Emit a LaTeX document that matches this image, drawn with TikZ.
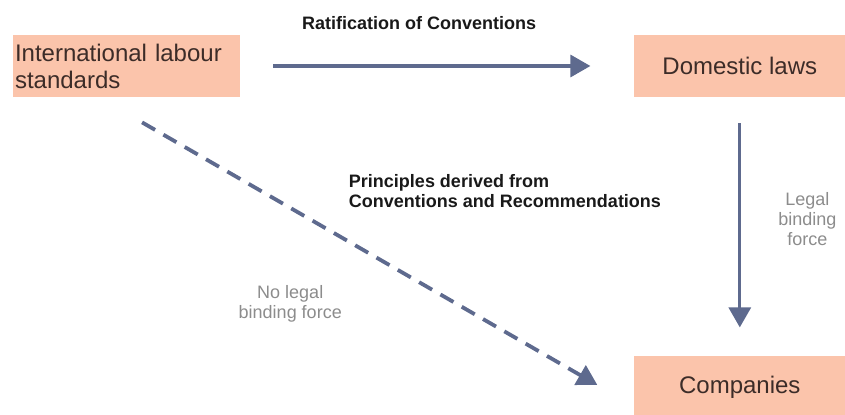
\documentclass[tikz,border=0pt]{standalone}
\usepackage{fontspec}
\setmainfont{Liberation Sans}
\usetikzlibrary{positioning,arrows.meta}

\definecolor{boxfill}{RGB}{251,196,171}
\definecolor{boxtext}{RGB}{60,44,40}
\definecolor{arrowblue}{RGB}{94,106,142}
\definecolor{notegray}{RGB}{140,140,140}

\begin{document}
\begin{tikzpicture}[x=0.5pt, y=-0.5pt]
    \tikzset{box/.style={
        fill=boxfill, text=boxtext, font=\fontsize{12}{13.5}\selectfont,
        minimum height=31pt, inner xsep=1pt, inner ysep=0pt
      },
      link/.style={arrowblue, line width=1.6pt, -{Triangle[length=10pt, width=11pt]}},
      title/.style={font=\fontsize{9}{10}\selectfont\bfseries, text=black!90},
      note/.style={font=\fontsize{9}{10}\selectfont, text=notegray, align=center}
    }

    \useasboundingbox (0,0) rectangle (845,415);

    \node[box, minimum width=113.5pt, text width=111.5pt, align=left] (A) at (126.5,66) {International labour\\standards};
    \node[box, minimum width=106pt, right=196.5pt of A] (B) {Domestic laws};
    \node[box, minimum width=106pt, below=129pt of B] (C) {Companies};

    \draw[link, shorten <=16.5pt, shorten >=21.5pt] (A.east) -- (B.west)
      node[title, pos=0.455, above=14pt] {Ratification of Conventions};

    \draw[link, shorten <=13pt, shorten >=14pt] (B.south) -- (C.north)
      node[note, pos=0.47, right=17.5pt, inner xsep=1pt] {Legal\\binding\\force};

    \draw[link, line width=1.9pt, dash pattern=on 7.5pt off 4.8pt, shorten <=9pt, shorten >=20.8pt]
      ([yshift=-8pt]A.south) -- ([yshift=-9.5pt]C.west)
      node[title, pos=0.435, anchor=south west, xshift=-3.3pt, yshift=12.3pt, align=left] {Principles derived from\\Conventions and Recommendations}
      node[note, pos=0.4, xshift=-19.5pt, yshift=-36.8pt] {No legal\\binding force};
\end{tikzpicture}
\end{document}
